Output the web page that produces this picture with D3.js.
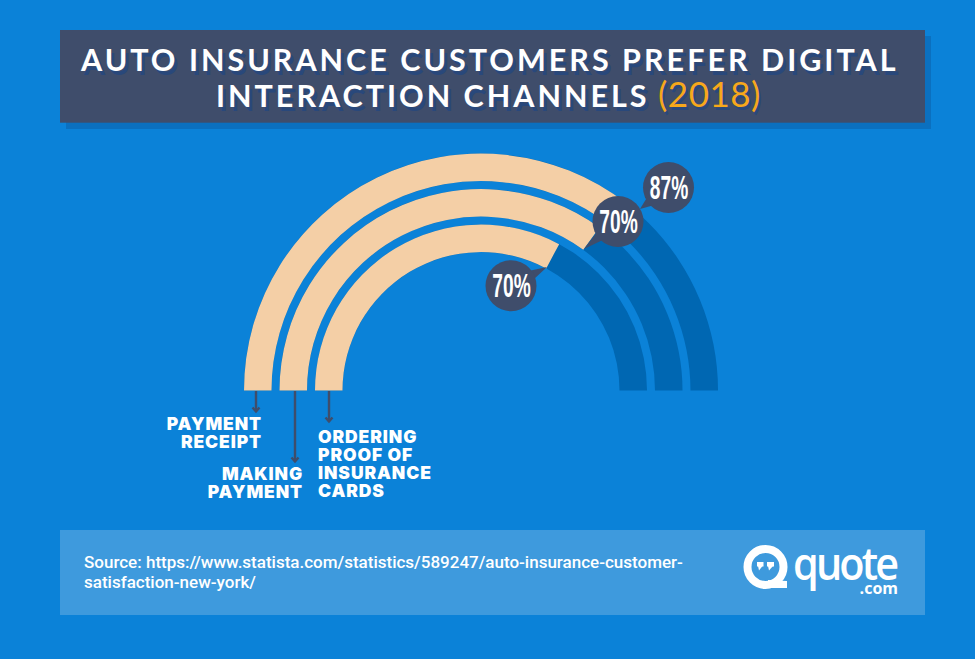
<!DOCTYPE html>
<html>
<head>
<meta charset="utf-8">
<script src="https://cdn.jsdelivr.net/npm/d3@7"></script>
<style>
  html, body { margin: 0; padding: 0; background: #0b82d8; }
  svg { display: block; }
</style>
</head>
<body>
<svg id="chart" width="975" height="659"></svg>
<script>
// values as printed on the badges
const channels = ["Payment receipt", "Making payment", "Ordering proof of insurance cards"];
const printedValues = [87, 70, 70];
// how far each band is actually filled in the picture, percent of the half circle
const drawnValues = [71, 70, 65.6];

const titleLines = ["AUTO INSURANCE CUSTOMERS PREFER DIGITAL", "INTERACTION CHANNELS"];
const titleYear = "(2018)";
const sourceLines = [
  "Source: https://www.statista.com/statistics/589247/auto-insurance-customer-",
  "satisfaction-new-york/"
];
const labelLines = [["PAYMENT", "RECEIPT"], ["MAKING", "PAYMENT"], ["ORDERING", "PROOF OF", "INSURANCE", "CARDS"]];

const svg = d3.select("#chart");
const WIDTH = 975, HEIGHT = 659;
const CX = 481, CY = 390.6;
const NAVY = "#3f4d6b";

svg.append("rect").attr("width", WIDTH).attr("height", HEIGHT).attr("fill", "#0b82d8");

// title panel
svg.append("rect").attr("x", 66).attr("y", 36).attr("width", 865).attr("height", 93).attr("fill", "#0b70bf");
svg.append("rect").attr("x", 60).attr("y", 30).attr("width", 865).attr("height", 92.7).attr("fill", NAVY);

const titleShadow = "3px 4px 0 #29487b";
const titleX = [81, 216];
titleLines.forEach((line, i) => {
  svg.append("text")
    .attr("x", titleX[i]).attr("y", 71 + i * 36)
    .attr("font-family", "Lato, sans-serif")
    .attr("font-weight", 700)
    .attr("font-size", 30.5)
    .attr("letter-spacing", 3)
    .attr("fill", "#fff")
    .style("text-shadow", titleShadow)
    .text(line);
});
svg.append("text")
  .attr("x", 658).attr("y", 107)
  .attr("font-family", "Lato, sans-serif")
  .attr("font-size", 35)
  .attr("letter-spacing", 0.5)
  .attr("fill", "#f7a81b")
  .style("text-shadow", "2px 3px 0 #29487b")
  .text(titleYear);

// rainbow bands
const valueAngle = d3.scaleLinear().domain([0, 100]).range([-Math.PI / 2, Math.PI / 2]);
const radius = d3.scaleBand().domain(channels).range([237, 138.5]).paddingInner(0.225);
const arc = d3.arc();
const g = svg.append("g").attr("transform", `translate(${CX},${CY})`);

channels.forEach((c, i) => {
  const r0 = radius(c), r1 = r0 + radius.bandwidth();
  g.append("path").attr("fill", "#0067b2")
    .attr("d", arc({ innerRadius: r0, outerRadius: r1, startAngle: valueAngle(0), endAngle: valueAngle(100) }));
  g.append("path").attr("fill", "#f4cfa6")
    .attr("d", arc({ innerRadius: r0, outerRadius: r1, startAngle: valueAngle(0), endAngle: valueAngle(drawnValues[i]) }));
});

// value badges
const badgeX = [668.5, 618, 511], badgeY = [187.5, 221.5, 285.7];
const tipX = [640, 584, 547], tipY = [209, 249, 267];
printedValues.forEach((v, i) => {
  const a = Math.atan2(tipY[i] - badgeY[i], tipX[i] - badgeX[i]);
  const side = 0.2;
  svg.append("path").attr("fill", NAVY)
    .attr("d", d3.line()([
      [tipX[i], tipY[i]],
      [badgeX[i] + 24 * Math.cos(a + side), badgeY[i] + 24 * Math.sin(a + side)],
      [badgeX[i] + 24 * Math.cos(a - side), badgeY[i] + 24 * Math.sin(a - side)]
    ]));
  svg.append("circle").attr("cx", badgeX[i]).attr("cy", badgeY[i]).attr("r", 25.5).attr("fill", NAVY);
  svg.append("text")
    .attr("transform", `translate(${badgeX[i] + 0.5},${badgeY[i] + 11.5}) scale(0.58,1)`)
    .attr("text-anchor", "middle")
    .attr("font-family", "'Liberation Sans Narrow', 'Liberation Sans', sans-serif")
    .attr("font-weight", 700)
    .attr("font-size", 33)
    .attr("fill", "#fff")
    .text(v + "%");
});

// leader arrows
const arrowX = [256, 295, 329], arrowEnd = [411.5, 461.5, 421.5];
arrowX.forEach((x, i) => {
  svg.append("line").attr("x1", x).attr("x2", x).attr("y1", 391).attr("y2", arrowEnd[i])
    .attr("stroke", NAVY).attr("stroke-width", 2.4);
  svg.append("path").attr("fill", "none").attr("stroke", NAVY).attr("stroke-width", 2.4)
    .attr("d", d3.line()([[x - 3.5, arrowEnd[i] - 4], [x, arrowEnd[i]], [x + 3.5, arrowEnd[i] - 4]]));
});

// channel labels
const labelX = [262, 303, 318], labelY = [430, 480, 443], labelAnchor = ["end", "end", "start"];
labelLines.forEach((lines, i) => {
  lines.forEach((line, j) => {
    svg.append("text")
      .attr("x", labelX[i]).attr("y", labelY[i] + j * 18)
      .attr("text-anchor", labelAnchor[i])
      .attr("font-family", "Inter, sans-serif")
      .attr("font-weight", 900)
      .attr("font-size", 17.5)
      .attr("letter-spacing", 0.9)
      .attr("fill", "#fff")
      .text(line);
  });
});

// source panel
svg.append("rect").attr("x", 60).attr("y", 530).attr("width", 865).attr("height", 85).attr("fill", "#3e9add");
sourceLines.forEach((line, i) => {
  svg.append("text")
    .attr("x", 84).attr("y", 568 + i * 20)
    .attr("font-family", "Roboto, sans-serif")
    .attr("font-weight", 500)
    .attr("font-size", 17)
    .attr("fill", "#fff")
    .text(line);
});

// logo
const logo = svg.append("g").attr("fill", "#fff");
logo.append("circle").attr("cx", 765.5).attr("cy", 567).attr("r", 18)
  .attr("fill", "none").attr("stroke", "#fff").attr("stroke-width", 8);
logo.append("path").attr("d", d3.line()([[768, 580], [787, 581], [787, 588], [768, 588]]));
logo.append("rect").attr("x", 757).attr("y", 562).attr("width", 6.5).attr("height", 4.5);
logo.append("rect").attr("x", 767).attr("y", 562).attr("width", 7).attr("height", 4.5);
logo.append("path").attr("d", d3.line()([[758, 566], [762.5, 566], [759, 570.5]]));
logo.append("path").attr("d", d3.line()([[768, 566], [773, 566], [769, 570.5]]));
logo.append("text").attr("transform", "translate(793,580) scale(0.9,1)")
  .attr("font-family", "'Open Sans', sans-serif").attr("font-weight", 600).attr("font-size", 46).attr("letter-spacing", -3.2)
  .text("quote");
logo.append("text").attr("x", 898).attr("y", 594).attr("text-anchor", "end")
  .attr("font-family", "'Open Sans', sans-serif").attr("font-weight", 700).attr("font-size", 16)
  .text(".com");
</script>
</body>
</html>
